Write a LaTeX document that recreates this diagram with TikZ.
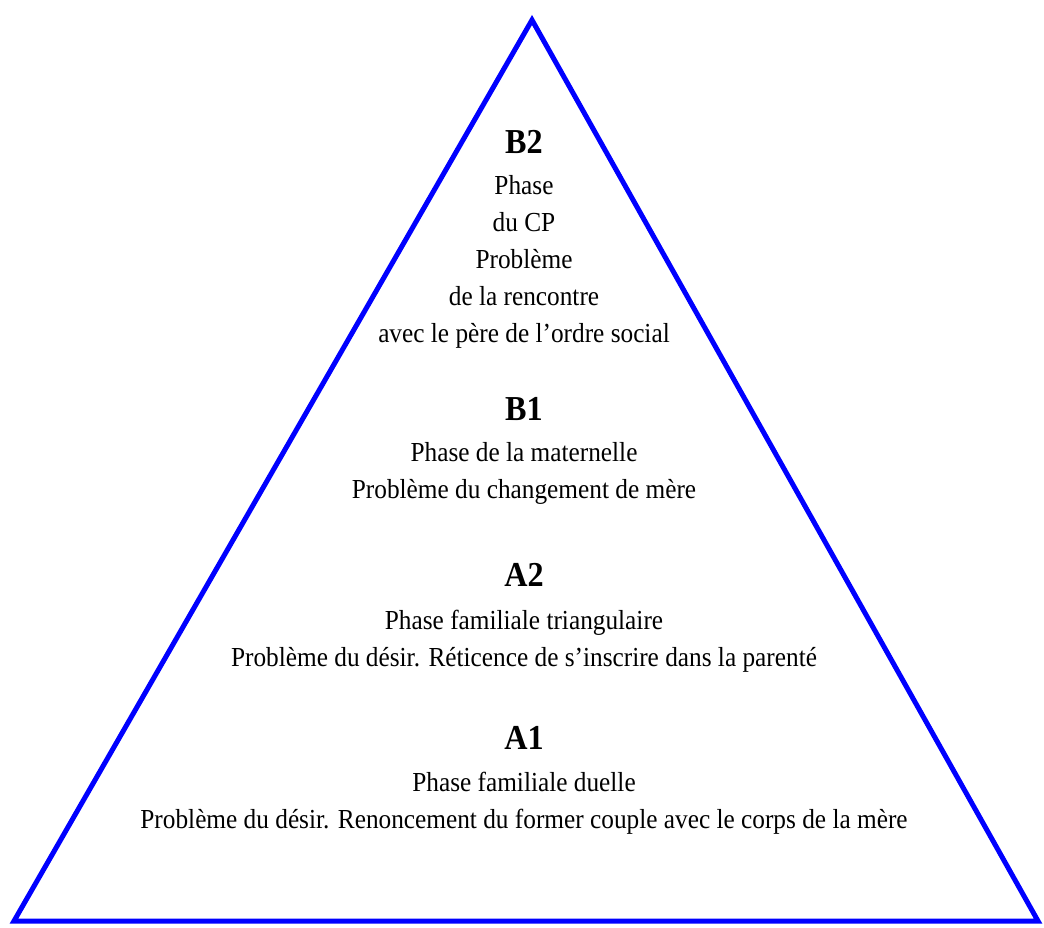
\documentclass[tikz,border=0pt]{standalone}
\usepackage{fontspec}
\setmainfont[FakeStretch=0.92]{Liberation Serif}
\tikzset{
    pyramid/.style={draw=blue, line width=5pt},
    phase title/.style={font=\fontsize{35}{40}\selectfont\bfseries, inner sep=0pt, anchor=base},
    % base of a multi-line node = baseline of its last line
    phase text/.style={font=\fontsize{27.5}{37}\selectfont, align=center, inner sep=0pt, anchor=base}}

\begin{document}
\begin{tikzpicture}[x=1pt,y=-1pt]

                    \useasboundingbox (0,0) rectangle (1044,928);
                    \coordinate (top) at (532,20);
                    \coordinate (left) at (14,921);
                    \coordinate (right) at (1038,921);

                    \draw[pyramid] (top) -- (right) -- (left) -- cycle;

                    \node[phase title] (B2) at (524,154) {B2};
                    \node[phase text] (B2 text) at (524,342) {Phase\\du CP\\Problème\\de la rencontre\\avec le père de l’ordre social};

                    \node[phase title] (B1) at (524,420) {B1};
                    \node[phase text] (B1 text) at (524,498) {Phase de la maternelle\\Problème du changement de mère};

                    \node[phase title] (A2) at (524,586) {A2};
                    \node[phase text] (A2 text) at (524,666) {Phase familiale triangulaire\\Problème du désir. Réticence de s’inscrire dans la parenté};

                    \node[phase title] (A1) at (524,749) {A1};
                    \node[phase text] (A1 text) at (524,828) {Phase familiale duelle\\Problème du désir. Renoncement du former couple avec le corps de la mère};

\end{tikzpicture}
\end{document}
